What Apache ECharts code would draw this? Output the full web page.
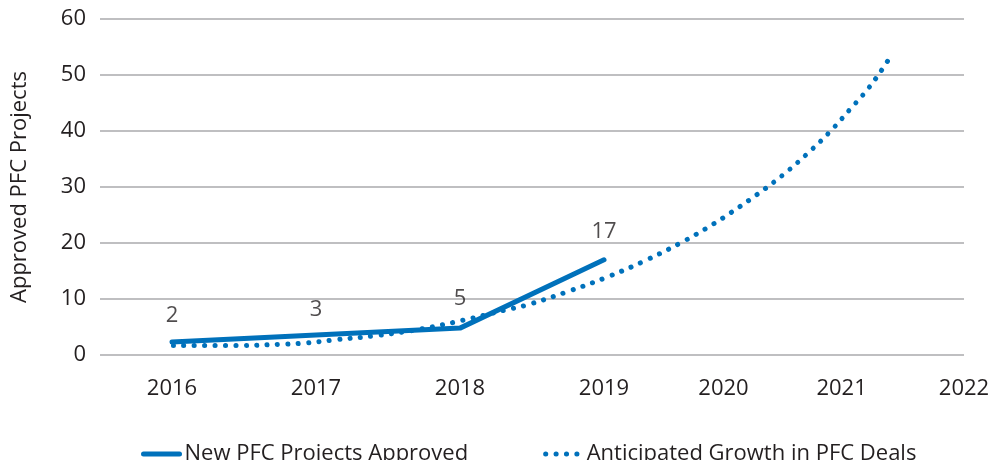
<!DOCTYPE html>
<html>
<head>
<meta charset="utf-8">
<script src="https://cdn.jsdelivr.net/npm/echarts@6/dist/echarts.min.js"></script>
<style>
  html, body { margin: 0; padding: 0; background: #fff; }
  #main { width: 993px; height: 460px; }
</style>
</head>
<body>
<div id="main"></div>
<script>
// x labels: the source places 2020-2022 a bit closer together than the earlier years
const xLabels = ['2016', '2017', '2018', '2019', '2020', '2021', '2022'];
const xLabelPos = [2016, 2017, 2018, 2019, 2019.83, 2020.65, 2021.5];

// solid line
const approvedX = [2016, 2018, 2019];
const approvedY = [2.3, 4.8, 17];

// value labels printed above the line
const labelYears = [2016, 2017, 2018, 2019];
const labelValues = [2, 3, 5, 17];

// dotted trend curve
const growthX = [2016.01, 2016.47, 2016.75, 2016.91, 2017.13, 2017.43, 2017.72, 2018.02, 2018.31,
  2018.46, 2018.74, 2019.02, 2019.29, 2019.56, 2019.76, 2019.88, 2020.06, 2020.24, 2020.41,
  2020.57, 2020.72, 2020.82, 2020.91, 2020.99];
const growthY = [1.7, 1.7, 1.9, 2.1, 2.7, 3.5, 4.6, 6.2, 8.0,
  8.9, 11.25, 13.9, 16.9, 20.4, 23.4, 25.4, 28.6, 32.1, 35.9,
  39.9, 44.2, 47.1, 50.2, 53.3];

const yTicks = [0, 10, 20, 30, 40, 50, 60];

const blue = '#0071bb';
const textColor = '#231f20';
const font = 'Open Sans';
const fs = 22;

const chart = echarts.init(document.getElementById('main'));

const zip = (a, b) => a.map((v, i) => [v, b[i]]);

const option = {
  animation: false,
  textStyle: { fontFamily: font, color: textColor },
  grid: { left: 100, right: 29, top: 19, bottom: 105 },
  legend: {
    left: 136,
    top: 438,
    itemWidth: 36,
    itemHeight: 20,
    itemGap: 75,
    itemStyle: { color: 'rgba(0,0,0,0)', borderColor: 'rgba(0,0,0,0)', borderWidth: 0 },
    lineStyle: { width: 5 },
    textStyle: { fontSize: fs, color: textColor, fontFamily: font },
    data: ['New PFC Projects Approved', 'Anticipated Growth in PFC Deals']
  },
  xAxis: {
    type: 'value',
    min: 2015.5,
    max: 2021.5,
    axisLine: { show: false },
    axisTick: { show: false },
    splitLine: { show: false },
    axisLabel: {
      customValues: xLabelPos,
      margin: 23,
      fontSize: fs,
      color: textColor,
      formatter: function (v) {
        let best = 0;
        xLabelPos.forEach((p, i) => {
          if (Math.abs(p - v) < Math.abs(xLabelPos[best] - v)) best = i;
        });
        return xLabels[best];
      }
    }
  },
  yAxis: {
    type: 'value',
    min: yTicks[0],
    max: yTicks[yTicks.length - 1],
    interval: 10,
    name: 'Approved PFC Projects',
    nameLocation: 'middle',
    nameGap: 69,
    nameTextStyle: { fontSize: fs, color: textColor },
    axisLine: { show: false },
    axisTick: { show: false },
    axisLabel: { margin: 14, fontSize: fs, color: textColor },
    splitLine: { lineStyle: { color: '#bfbfc1', width: 2 } }
  },
  series: [
    {
      name: 'Anticipated Growth in PFC Deals',
      type: 'line',
      data: zip(growthX, growthY),
      smooth: 0.4,
      symbol: 'none',
      itemStyle: { color: blue },
      lineStyle: { color: blue, width: 5, type: [0.1, 10.3], cap: 'round' },
      z: 2
    },
    {
      name: 'New PFC Projects Approved',
      type: 'line',
      data: zip(approvedX, approvedY),
      symbol: 'none',
      itemStyle: { color: blue },
      lineStyle: { color: blue, width: 5, cap: 'round' },
      z: 3
    },
    {
      name: 'labels',
      type: 'scatter',
      data: zip(labelYears, labelValues),
      symbolSize: 1,
      silent: true,
      itemStyle: { color: 'rgba(0,0,0,0)' },
      label: {
        show: true,
        position: 'top',
        distance: 17,
        fontSize: fs,
        color: textColor,
        fontFamily: font,
        formatter: p => p.value[1]
      }
    }
  ]
};

chart.setOption(option);
</script>
</body>
</html>
